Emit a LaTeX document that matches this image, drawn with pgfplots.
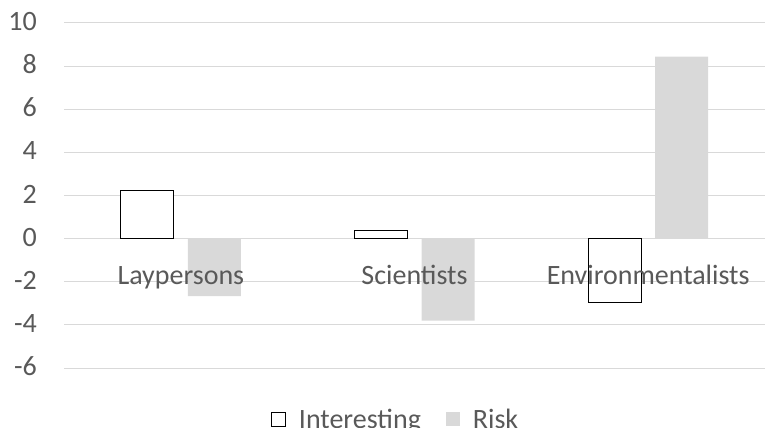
\documentclass[border=0pt]{standalone}
\usepackage{fontspec}
\setmainfont{Carlito}
\usepackage{pgfplots}
\pgfplotsset{compat=1.18}
\definecolor{txt}{HTML}{595959}
\definecolor{gridc}{HTML}{D9D9D9}
\definecolor{riskc}{HTML}{D9D9D9}
\pgfplotsset{
  layers/barsbelow/.define layer set={axis background,axis grid,pre main,main,axis ticks,axis lines,axis tick labels,axis descriptions,axis foreground}{/pgfplots/layers/standard},
}
\begin{document}
\fontsize{28bp}{33bp}\selectfont
\begin{tikzpicture}[x=1bp,y=1bp]
\begin{axis}[
  set layers=barsbelow,
  at={(64bp,59bp)}, anchor=south west,
  scale only axis, width=701bp, height=345bp,
  xmin=-0.5, xmax=2.5, ymin=-6, ymax=10,
  ytick={-6,-4,...,10},
  xtick={0,1,2},
  xticklabels={Laypersons,Scientists,Environmentalists},
  axis x line=middle, axis y line=left,
  axis line style={draw=none},
  major tick length=0pt,
  ymajorgrids, grid style={gridc, line width=1bp},
  ybar, bar width=0.227,
  /pgf/number format/assume math mode=true,
  tick label style={font=\fontsize{28bp}{33bp}\selectfont, text=txt},
  yticklabel style={anchor=base east, inner sep=0pt, xshift=-27bp, yshift=-7.5bp},
  xticklabel style={anchor=base, inner sep=0pt, yshift=-46bp},
  legend style={at={(0.473,-0.152)}, anchor=center, legend columns=2,
    draw=none, fill=none, font=\fontsize{28bp}{33bp}\selectfont, text=txt,
    /tikz/every odd column/.append style={column sep=11bp},
    /tikz/every even column/.append style={column sep=23bp},
    legend cell align=left},
]
\addplot[bar shift=-0.1435, fill=white, draw=black, line width=1bp,
  legend image code/.code={\draw[fill=white, draw=black, line width=1bp] (0bp,-6bp) rectangle (14bp,8bp);}]
  coordinates {(0,2.22) (1,0.40) (2,-2.98)};
\addlegendentry{Interesting}
\addplot[bar shift=0.1435, fill=riskc, draw=none,
  legend image code/.code={\fill[riskc] (0bp,-6bp) rectangle (14bp,8bp);}]
  coordinates {(0,-2.67) (1,-3.80) (2,8.44)};
\addlegendentry{Risk}
\end{axis}
\pgfresetboundingbox
\useasboundingbox (0,0) rectangle (768,427);
\end{tikzpicture}
\end{document}
